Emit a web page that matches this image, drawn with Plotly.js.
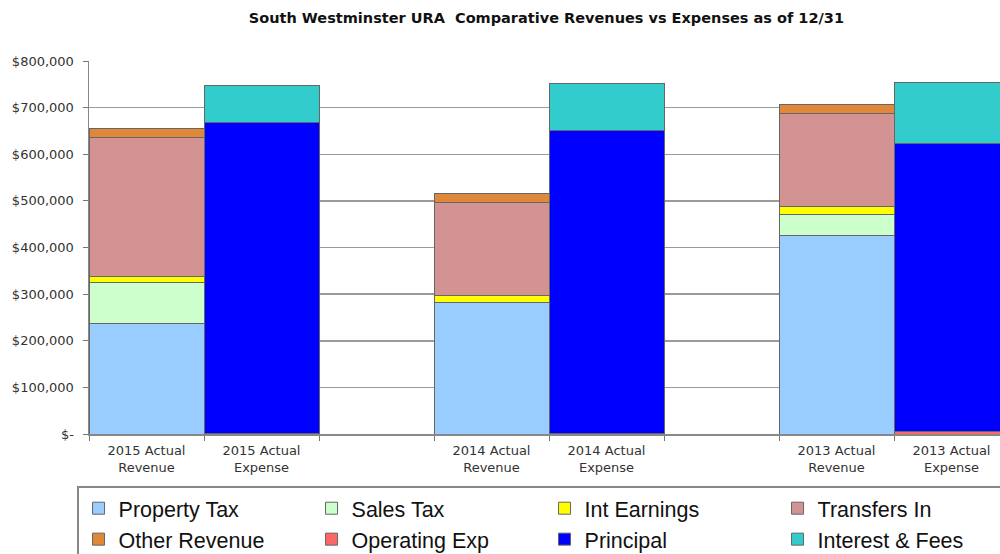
<!DOCTYPE html>
<html>
<head>
<meta charset="utf-8">
<script src="https://cdn.plot.ly/plotly-3.0.1.min.js"></script>
<style>
html,body{margin:0;padding:0;overflow:hidden;background:#fff;width:1000px;height:554px;}
#chart{width:1010px;height:554px;}
</style>
</head>
<body>
<div id="chart"></div>
<script>
// Categories (blank slots are the gaps between year pairs)
const categories = ["2015 Actual<br>Revenue", "2015 Actual<br>Expense", " ",
                    "2014 Actual<br>Revenue", "2014 Actual<br>Expense", "  ",
                    "2013 Actual<br>Revenue", "2013 Actual<br>Expense"];

// Series values
const propertyTax   = [238000, null, null, 283000, null, null, 425000, null];
const salesTax      = [88000,  null, null, 0,      null, null, 45000,  null];
const intEarnings   = [11000,  null, null, 13000,  null, null, 17000,  null];
const transfersIn   = [298000, null, null, 200000, null, null, 200000, null];
const otherRevenue  = [20000,  null, null, 19000,  null, null, 19000,  null];
const operatingExp  = [null, 1500, null, null, 1500, null, null, 5000];
const principal     = [null, 666000, null, null, 649000, null, null, 619000];
const interestFees  = [null, 80000, null, null, 101000, null, null, 129000];

const seriesNames = ["Property Tax", "Sales Tax", "Int Earnings", "Transfers In",
                     "Other Revenue", "Operating Exp", "Principal", "Interest & Fees"];
const seriesColors = ["#99CCFF", "#CCFFCC", "#FFFF00", "#D39393",
                      "#E0883A", "#FF6666", "#0000FF", "#33CCCC"];
const seriesValues = [propertyTax, salesTax, intEarnings, transfersIn,
                      otherRevenue, operatingExp, principal, interestFees];

// Y-axis ticks
const yTickVals = [0, 100000, 200000, 300000, 400000, 500000, 600000, 700000, 800000];
const yTickText = ["$-", "$100,000", "$200,000", "$300,000", "$400,000",
                   "$500,000", "$600,000", "$700,000", "$800,000"];

const titleText = "South Westminster URA  Comparative Revenues vs Expenses as of 12/31";

const traces = seriesNames.map((name, i) => ({
  type: "bar",
  name: name,
  x: categories,
  y: seriesValues[i],
  marker: {color: seriesColors[i], line: {color: "#666666", width: 1}},
  hoverinfo: "name+y"
}));

const layout = {
  width: 1010,
  height: 554,
  margin: {l: 89, r: 1, t: 61, b: 120, autoexpand: false},
  paper_bgcolor: "#ffffff",
  plot_bgcolor: "#ffffff",
  barmode: "stack",
  bargap: 0,
  font: {family: "DejaVu Sans, sans-serif", color: "#333333"},
  title: {
    text: "<b>" + titleText + "</b>",
    font: {family: "DejaVu Sans, sans-serif", size: 14.5, color: "#111111"},
    x: 0.541, xanchor: "center", y: 0.968, yanchor: "middle"
  },
  xaxis: {
    type: "category",
    categoryorder: "array",
    categoryarray: categories,
    tickson: "boundaries",
    ticks: "outside",
    ticklen: 5,
    tickcolor: "#777777",
    showline: true,
    linecolor: "#888888",
    linewidth: 1.5,
    showgrid: false,
    tickfont: {size: 13, color: "#333333", family: "DejaVu Sans, sans-serif"},
    ticklabelstandoff: 4,
    fixedrange: true
  },
  yaxis: {
    range: [0, 800000],
    tickvals: yTickVals,
    ticktext: yTickText,
    ticks: "outside",
    ticklen: 5,
    tickcolor: "#777777",
    showline: true,
    linecolor: "#888888",
    linewidth: 1.5,
    showgrid: true,
    gridcolor: "#9a9a9a",
    gridwidth: 1.5,
    zeroline: false,
    tickfont: {size: 13, color: "#333333", family: "DejaVu Sans, sans-serif"},
    ticklabelstandoff: 6,
    fixedrange: true
  },
  showlegend: true,
  legend: {
    orientation: "h",
    traceorder: "normal",
    x: -0.013, xref: "paper", xanchor: "left",
    y: -0.14, yanchor: "top",
    entrywidth: 188,
    entrywidthmode: "pixels",
    font: {size: 21.5, color: "#111111", family: "Liberation Sans, Arial, sans-serif"},
    bordercolor: "#888888",
    borderwidth: 1.5,
    bgcolor: "#ffffff",
    itemwidth: 30,
    tracegroupgap: 0
  }
};

Plotly.newPlot("chart", traces, layout, {displayModeBar: false, staticPlot: true});
</script>
</body>
</html>
